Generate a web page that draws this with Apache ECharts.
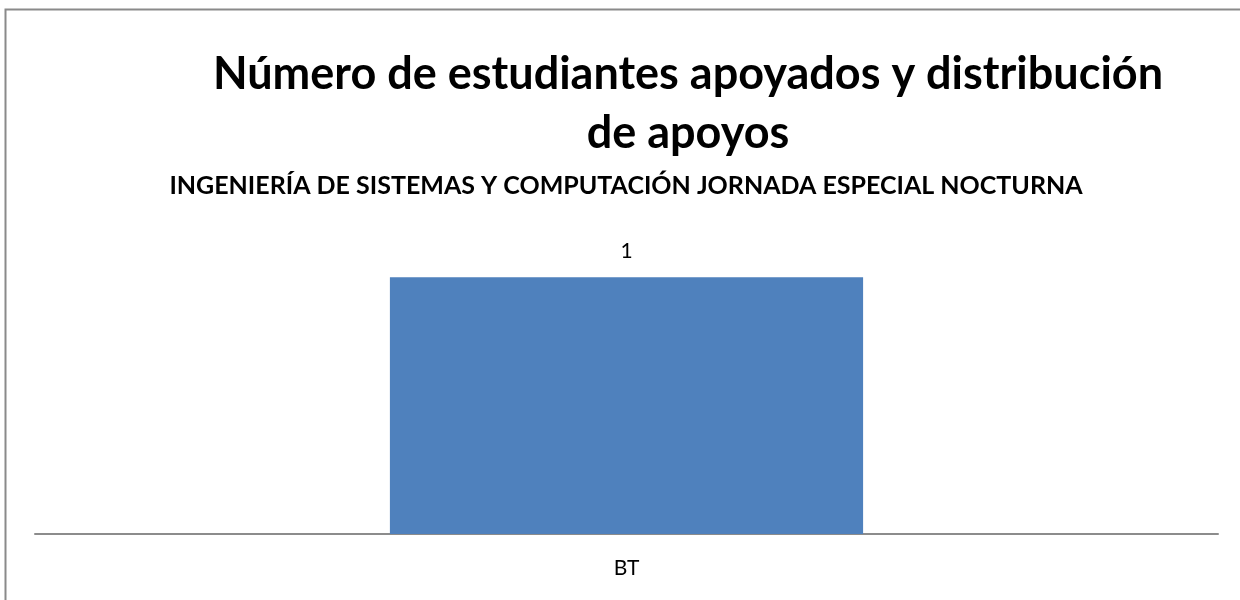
<!DOCTYPE html>
<html>
<head>
<meta charset="utf-8">
<script src="https://cdn.jsdelivr.net/npm/echarts@6/dist/echarts.min.js"></script>
<style>html,body{margin:0;padding:0;background:#fff}#c{width:1240px;height:600px}</style>
</head>
<body>
<div id="c"></div>
<script>
const titleLines = ['Número de estudiantes apoyados y distribución', 'de apoyos'];
const subtitle = 'INGENIERÍA DE SISTEMAS Y COMPUTACIÓN JORNADA ESPECIAL NOCTURNA';
const categories = ['BT'];
const values = [1];

const chart = echarts.init(document.getElementById('c'));
chart.setOption({
  animation: false,
  backgroundColor: '#fff',
  graphic: [
    { type: 'rect', shape: { x: 5.5, y: 9.5, width: 1260, height: 620 }, style: { fill: 'none', stroke: '#8a8a8a', lineWidth: 2 }, silent: true },
    { type: 'text', x: 688, y: 74, style: { text: titleLines[0], font: 'bold 45px Lato', fill: '#000', textAlign: 'center', textVerticalAlign: 'middle' } },
    { type: 'text', x: 688, y: 133, style: { text: titleLines[1], font: 'bold 45px Lato', fill: '#000', textAlign: 'center', textVerticalAlign: 'middle' } },
    { type: 'text', x: 626, y: 186, style: { text: subtitle, font: 'bold 25px Lato', fill: '#000', textAlign: 'center', textVerticalAlign: 'middle' } }
  ],
  grid: { left: 35, right: 22, top: 226, bottom: 66, containLabel: false },
  xAxis: {
    type: 'category',
    data: categories,
    axisLine: { lineStyle: { color: '#8c8c8c', width: 2 } },
    axisTick: { show: false },
    axisLabel: { color: '#000', fontFamily: 'Lato', fontSize: 21, margin: 24 }
  },
  yAxis: {
    type: 'value', min: 0, max: 1.2, interval: 0.2,
    show: false, splitLine: { show: false }
  },
  series: [{
    type: 'bar',
    data: values,
    barWidth: '40%',
    itemStyle: { color: '#4f81bd' },
    label: { show: true, position: 'top', distance: 16, color: '#000', fontFamily: 'Lato', fontSize: 21 }
  }]
});
</script>
</body>
</html>
